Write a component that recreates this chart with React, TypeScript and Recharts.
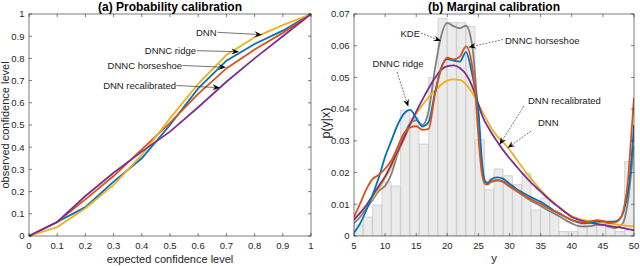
import React from 'react';
import { LineChart, ComposedChart, Line, Bar, XAxis, YAxis } from 'recharts';

const FONT = '"Liberation Sans", Arial, Helvetica, sans-serif';
const AXIS_COLOR = '#262626';
const BLUE = '#0072BD';
const RED = '#D95319';
const YELLOW = '#EDB120';
const PURPLE = '#7E2F8E';
const GRAY = '#808080';

// (a) probability calibration
const CONF_LEVELS = [0, 0.1, 0.2, 0.3, 0.4, 0.5, 0.6, 0.7, 0.8, 0.9, 1];
const PROB_RIDGE = [0, 0.063, 0.13, 0.245, 0.35, 0.5, 0.665, 0.79, 0.865, 0.925, 1];
const PROB_HORSESHOE = [0, 0.063, 0.165, 0.27, 0.39, 0.51, 0.64, 0.755, 0.84, 0.915, 1];
const PROB_DNN = [0, 0.04, 0.125, 0.23, 0.365, 0.53, 0.685, 0.815, 0.895, 0.95, 1];
const PROB_RECAL = [0, 0.063, 0.18, 0.285, 0.38, 0.47, 0.58, 0.695, 0.8, 0.9, 1];

// (b) marginal calibration: histogram bins (width 1.5, 5..50)
const BIN_STARTS = [5, 6.5, 8, 9.5, 11, 12.5, 14, 15.5, 17, 18.5, 20, 21.5, 23, 24.5, 26, 27.5, 29, 30.5, 32, 33.5, 35, 36.5, 38, 39.5, 41, 42.5, 44, 45.5, 47, 48.5];
const BIN_HEIGHTS = [0.0035, 0.006, 0.0098, 0.017, 0.0158, 0.0396, 0.0372, 0.029, 0.05, 0.0686, 0.0673, 0.0673, 0.066, 0.0304, 0.0146, 0.0211, 0.019, 0.0162, 0.0198, 0.0082, 0.012, 0.008, 0.0014, 0.0014, 0.0035, 0.0035, 0.0038, 0.0027, 0.0014, 0.0235];

const Y_VALUES = [5, 6, 7, 8, 9, 10, 11, 12, 13, 14, 15, 16, 17, 18, 19, 20, 21, 22, 23, 24, 24.5, 25, 25.5, 26, 26.5, 27, 28, 29, 30, 31, 32, 33, 34, 35, 36, 37, 38, 39, 40, 41, 42, 43, 44, 45, 46, 47, 48, 48.5, 49, 49.5, 50];
const KDE = [0.004, 0.006, 0.0088, 0.0114, 0.0142, 0.0158, 0.0195, 0.0258, 0.0315, 0.0355, 0.0365, 0.035, 0.0395, 0.0525, 0.063, 0.0672, 0.0662, 0.0655, 0.0663, 0.06, 0.05, 0.037, 0.0235, 0.0175, 0.0165, 0.017, 0.0175, 0.017, 0.0155, 0.0143, 0.013, 0.0117, 0.0105, 0.0095, 0.0083, 0.0073, 0.0062, 0.005, 0.004, 0.0032, 0.003, 0.0031, 0.0035, 0.0035, 0.0029, 0.0025, 0.0035, 0.0055, 0.0105, 0.019, 0.0285];
const MARG_RIDGE = [0.001, 0.004, 0.0082, 0.013, 0.0185, 0.025, 0.03, 0.035, 0.0385, 0.0398, 0.0372, 0.0345, 0.036, 0.045, 0.053, 0.0558, 0.0553, 0.055, 0.058, 0.051, 0.046, 0.0395, 0.025, 0.0175, 0.0168, 0.0178, 0.0185, 0.018, 0.0165, 0.015, 0.0138, 0.0127, 0.0117, 0.0108, 0.0095, 0.0082, 0.007, 0.006, 0.005, 0.0043, 0.004, 0.0042, 0.0045, 0.0046, 0.0045, 0.0046, 0.0062, 0.009, 0.0136, 0.022, 0.035];
const MARG_HORSESHOE = [0.006, 0.0103, 0.0148, 0.018, 0.0193, 0.0212, 0.0238, 0.028, 0.0323, 0.0342, 0.0346, 0.0335, 0.0338, 0.0445, 0.0526, 0.0562, 0.0557, 0.0565, 0.0598, 0.0535, 0.045, 0.031, 0.0205, 0.0165, 0.0162, 0.0172, 0.0176, 0.0172, 0.0158, 0.0146, 0.0133, 0.0121, 0.011, 0.0102, 0.009, 0.008, 0.0072, 0.006, 0.005, 0.0045, 0.0043, 0.0046, 0.005, 0.0048, 0.0041, 0.0043, 0.0062, 0.01, 0.0168, 0.03, 0.0436];
const MARG_RECAL = [0.0051, 0.0073, 0.0098, 0.0128, 0.0158, 0.0188, 0.0226, 0.0266, 0.0308, 0.0352, 0.0392, 0.043, 0.0466, 0.0498, 0.0524, 0.0536, 0.0538, 0.053, 0.051, 0.0472, 0.0445, 0.0415, 0.0385, 0.0362, 0.0345, 0.0328, 0.0298, 0.027, 0.0245, 0.0222, 0.0199, 0.0178, 0.0158, 0.014, 0.0122, 0.0105, 0.009, 0.0074, 0.006, 0.0052, 0.0046, 0.0042, 0.0038, 0.0035, 0.0032, 0.0029, 0.0026, 0.0024, 0.0022, 0.002, 0.0018];
const MARG_DNN = [0.0054, 0.0073, 0.0094, 0.012, 0.015, 0.0182, 0.0218, 0.026, 0.0302, 0.0348, 0.0385, 0.0413, 0.0438, 0.0458, 0.0477, 0.049, 0.0494, 0.0492, 0.0478, 0.0452, 0.0435, 0.0415, 0.0397, 0.0378, 0.036, 0.0342, 0.0315, 0.0295, 0.0272, 0.0245, 0.0218, 0.0192, 0.0168, 0.0145, 0.0125, 0.0107, 0.009, 0.0075, 0.0063, 0.0055, 0.005, 0.0047, 0.0045, 0.0042, 0.004, 0.0037, 0.0034, 0.0033, 0.0032, 0.0031, 0.003];

const Y_TICKS = [5, 10, 15, 20, 25, 30, 35, 40, 45, 50];
const DENSITY_TICKS = [0, 0.01, 0.02, 0.03, 0.04, 0.05, 0.06, 0.07];

const probData = CONF_LEVELS.map((x, i) => ({
  x,
  ridge: PROB_RIDGE[i],
  horseshoe: PROB_HORSESHOE[i],
  dnn: PROB_DNN[i],
  recal: PROB_RECAL[i],
}));

const histData = BIN_STARTS.map((b, i) => ({ bin: b, h: BIN_HEIGHTS[i] }));

const curveData = Y_VALUES.map((x, i) => ({
  x,
  kde: KDE[i],
  ridge: MARG_RIDGE[i],
  horseshoe: MARG_HORSESHOE[i],
  recal: MARG_RECAL[i],
  dnn: MARG_DNN[i],
}));

// plot boxes inside each 320px chart
const BOX_A = { left: 29, right: 311, top: 14, bottom: 236 };
const BOX_B = { left: 34, right: 314, top: 14, bottom: 236 };

const fmt = (v: number) => String(+v.toFixed(2));

const xTick = (box: typeof BOX_A) => (props: any) => {
  const { x, payload } = props;
  return (
    <g>
      <line x1={x} x2={x} y1={box.bottom} y2={box.bottom - 3} stroke={AXIS_COLOR} strokeWidth={0.6} />
      <line x1={x} x2={x} y1={box.top} y2={box.top + 3} stroke={AXIS_COLOR} strokeWidth={0.6} />
      <text x={x} y={box.bottom + 13} textAnchor="middle" fontSize={9.5} fill={AXIS_COLOR} fontFamily={FONT}>
        {fmt(payload.value)}
      </text>
    </g>
  );
};

const yTick = (box: typeof BOX_A) => (props: any) => {
  const { y, payload } = props;
  return (
    <g>
      <line x1={box.left} x2={box.left + 3} y1={y} y2={y} stroke={AXIS_COLOR} strokeWidth={0.6} />
      <line x1={box.right} x2={box.right - 3} y1={y} y2={y} stroke={AXIS_COLOR} strokeWidth={0.6} />
      <text x={box.left - 4.5} y={y + 3.3} textAnchor="end" fontSize={9.5} fill={AXIS_COLOR} fontFamily={FONT}>
        {fmt(payload.value)}
      </text>
    </g>
  );
};

function Arrow({ from, to, text, tx, ty, anchor = 'start', dashed = false }: any) {
  const [x1, y1] = from;
  const [x2, y2] = to;
  const dx = x2 - x1;
  const dy = y2 - y1;
  const len = Math.hypot(dx, dy);
  const ux = dx / len;
  const uy = dy / len;
  const L = 7.5;
  const W = 3;
  const bx = x2 - ux * L;
  const by = y2 - uy * L;
  const nx = x2 - ux * L * 0.65;
  const ny = y2 - uy * L * 0.65;
  const head = `${x2},${y2} ${bx - uy * W},${by + ux * W} ${nx},${ny} ${bx + uy * W},${by - ux * W}`;
  return (
    <g>
      <line x1={x1} y1={y1} x2={nx} y2={ny} stroke="#3a3a3a" strokeWidth={0.7} strokeDasharray={dashed ? '2 1.2' : undefined} />
      <polygon points={head} fill="#000" />
      <text x={tx} y={ty} textAnchor={anchor} fontSize={9.5} fill="#1a1a1a" fontFamily={FONT}>
        {text}
      </text>
    </g>
  );
}

export default function App() {
  return (
    <div style={{ position: 'absolute', left: 0, top: 0, width: 640, height: 266, background: '#fff' }}>
      <style>{'body{margin:0}'}</style>
      <div style={{ position: 'absolute', left: 0, top: 0 }}>
        <LineChart width={320} height={266} data={probData} margin={{ top: 14, right: 9, bottom: 0, left: 0 }}>
          <XAxis dataKey="x" type="number" domain={[0, 1]} ticks={CONF_LEVELS} interval={0} height={30} axisLine={false} tickLine={false} tick={xTick(BOX_A)} />
          <YAxis type="number" domain={[0, 1]} ticks={CONF_LEVELS} interval={0} width={29} axisLine={false} tickLine={false} tick={yTick(BOX_A)} />
          <Line type="linear" dataKey="ridge" stroke={BLUE} strokeWidth={1.8} dot={false} isAnimationActive={false} />
          <Line type="linear" dataKey="horseshoe" stroke={RED} strokeWidth={1.8} dot={false} isAnimationActive={false} />
          <Line type="linear" dataKey="dnn" stroke={YELLOW} strokeWidth={1.8} dot={false} isAnimationActive={false} />
          <Line type="linear" dataKey="recal" stroke={PURPLE} strokeWidth={1.8} dot={false} isAnimationActive={false} />
        </LineChart>
      </div>
      <div style={{ position: 'absolute', left: 320, top: 0 }}>
        <ComposedChart width={320} height={266} data={histData} margin={{ top: 14, right: 6, bottom: 0, left: 0 }} barCategoryGap={0} barGap={0}>
          <XAxis xAxisId="bins" dataKey="bin" type="category" hide />
          <XAxis xAxisId="num" dataKey="x" type="number" domain={[5, 50]} allowDataOverflow ticks={Y_TICKS} interval={0} height={30} axisLine={false} tickLine={false} tick={xTick(BOX_B)} />
          <YAxis type="number" domain={[0, 0.07]} allowDataOverflow ticks={DENSITY_TICKS} interval={0} width={34} axisLine={false} tickLine={false} tick={yTick(BOX_B)} />
          <Bar xAxisId="bins" dataKey="h" fill="#ebebeb" stroke="#c4c4c4" strokeWidth={0.7} isAnimationActive={false} />
          <Line xAxisId="num" data={curveData} type="monotone" dataKey="kde" stroke={GRAY} strokeWidth={1.8} dot={false} isAnimationActive={false} />
          <Line xAxisId="num" data={curveData} type="monotone" dataKey="dnn" stroke={YELLOW} strokeWidth={1.8} dot={false} isAnimationActive={false} />
          <Line xAxisId="num" data={curveData} type="monotone" dataKey="recal" stroke={PURPLE} strokeWidth={1.8} dot={false} isAnimationActive={false} />
          <Line xAxisId="num" data={curveData} type="monotone" dataKey="ridge" stroke={BLUE} strokeWidth={1.8} dot={false} isAnimationActive={false} />
          <Line xAxisId="num" data={curveData} type="monotone" dataKey="horseshoe" stroke={RED} strokeWidth={1.8} dot={false} isAnimationActive={false} />
        </ComposedChart>
      </div>
      <svg width={640} height={266} style={{ position: 'absolute', left: 0, top: 0, pointerEvents: 'none' }}>
        <rect x={BOX_A.left} y={BOX_A.top} width={BOX_A.right - BOX_A.left} height={BOX_A.bottom - BOX_A.top} fill="none" stroke={AXIS_COLOR} strokeWidth={0.6} />
        <rect x={320 + BOX_B.left} y={BOX_B.top} width={BOX_B.right - BOX_B.left} height={BOX_B.bottom - BOX_B.top} fill="none" stroke={AXIS_COLOR} strokeWidth={0.6} />

        <text x={170} y={11} textAnchor="middle" fontSize={12} fontWeight="bold" fontFamily={FONT} fill="#000">(a) Probability calibration</text>
        <text x={494} y={11} textAnchor="middle" fontSize={12} fontWeight="bold" fontFamily={FONT} fill="#000">(b) Marginal calibration</text>

        <text x={170} y={263} textAnchor="middle" fontSize={11} fontFamily={FONT} fill={AXIS_COLOR}>expected confidence level</text>
        <text x={494} y={262} textAnchor="middle" fontSize={11.5} fontFamily={FONT} fill={AXIS_COLOR}>y</text>
        <text transform="translate(8.5,125) rotate(-90)" textAnchor="middle" fontSize={11} fontFamily={FONT} fill={AXIS_COLOR}>observed confidence level</text>
        <text transform="translate(330,123) rotate(-90)" textAnchor="middle" fontSize={12.5} fontFamily={FONT} fill={AXIS_COLOR}>p(y|x)</text>

        <Arrow from={[217.5, 32.3]} to={[262, 34.7]} text="DNN" tx={216.5} ty={36} anchor="end" />
        <Arrow from={[197, 50.7]} to={[239, 51.7]} text="DNNC ridge" tx={196} ty={53.5} anchor="end" />
        <Arrow from={[182.5, 65.5]} to={[226, 67.3]} text="DNNC horseshoe" tx={182} ty={69} anchor="end" />
        <Arrow from={[176.5, 85.5]} to={[220, 87.7]} text="DNN recalibrated" tx={176} ty={89} anchor="end" />

        <Arrow from={[421, 33]} to={[441, 41]} text="KDE" tx={420} ty={36.5} anchor="end" dashed />
        <Arrow from={[503, 39.5]} to={[468.5, 47.3]} text="DNNC horseshoe" tx={505} ty={43.5} dashed />
        <Arrow from={[397, 72]} to={[408.3, 106.7]} text="DNNC ridge" tx={398} ty={67} anchor="middle" dashed />
        <Arrow from={[524, 106]} to={[499.5, 144.7]} text="DNN recalibrated" tx={528} ty={104} dashed />
        <Arrow from={[531, 131]} to={[507.5, 148]} text="DNN" tx={538} ty={126} dashed />
      </svg>
    </div>
  );
}
